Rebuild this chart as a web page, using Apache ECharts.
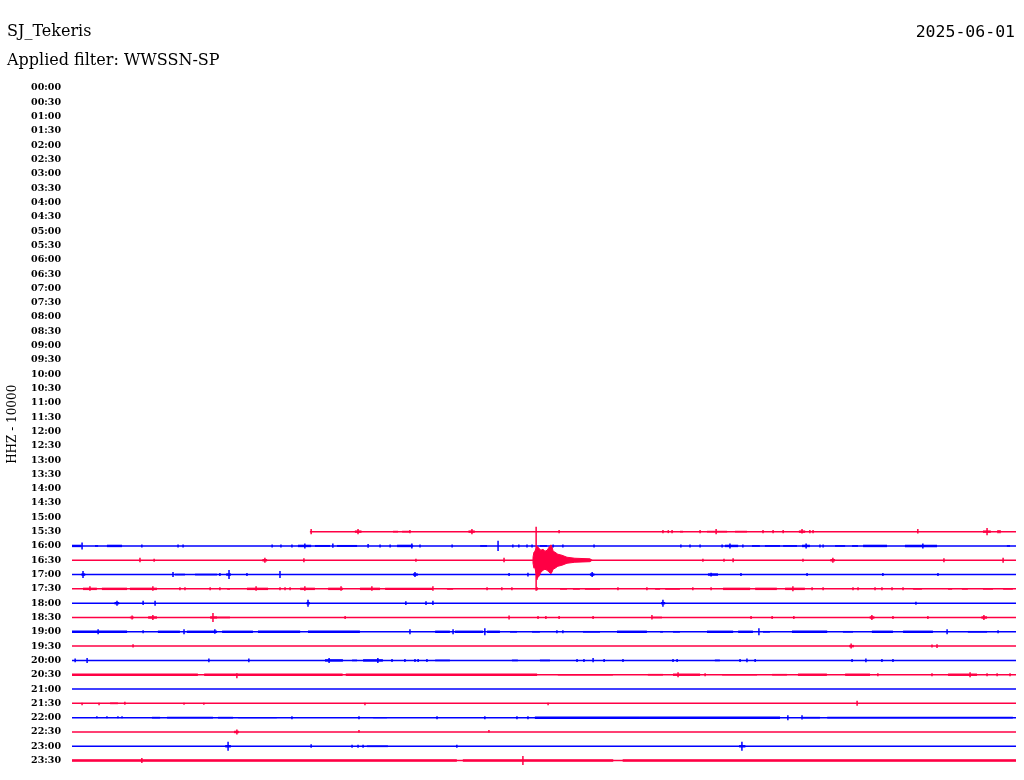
<!DOCTYPE html>
<html>
<head>
<meta charset="utf-8">
<script src="https://cdn.jsdelivr.net/npm/echarts@6/dist/echarts.min.js"></script>
<style>html,body{margin:0;padding:0;background:#fff}#c{width:1024px;height:780px}</style>
</head>
<body>
<div id="c"></div>
<script>
// ---- tick labels (rows of the helicorder, 30 minutes each) ----
const rowLabels = ['00:00','00:30','01:00','01:30','02:00','02:30','03:00','03:30','04:00','04:30','05:00','05:30',
  '06:00','06:30','07:00','07:30','08:00','08:30','09:00','09:30','10:00','10:30','11:00','11:30',
  '12:00','12:30','13:00','13:30','14:00','14:30','15:00','15:30','16:00','16:30','17:00','17:30',
  '18:00','18:30','19:00','19:30','20:00','20:30','21:00','21:30','22:00','22:30','23:00','23:30'];

// ---- rows that carry a trace, and the minute (within the row) where each trace begins ----
const traceRows  = ['15:30','16:00','16:30','17:00','17:30','18:00','18:30','19:00','19:30','20:00','20:30','21:00','21:30','22:00','22:30','23:00','23:30'];
const traceStart = [7.56, 0, 0, 0, 0, 0, 0, 0, 0, 0, 0, 0, 0, 0, 0, 0, 0];
const rowMinutes = 30;

// ---- spikes: [row, minute, amplitude up, amplitude down] (row-spacing units) ----
const spikes = [
  ['15:30',7.60,0.14,0.14],['15:30',9.09,0.14,0.14],['15:30',10.74,0.07,0.07],['15:30',12.71,0.14,0.14],['15:30',15.48,0.07,0.07],
  ['15:30',18.78,0.07,0.07],['15:30',18.95,0.07,0.07],['15:30',19.07,0.07,0.07],['15:30',19.96,0.07,0.07],['15:30',20.47,0.14,0.14],
  ['15:30',21.96,0.07,0.07],['15:30',22.28,0.07,0.07],['15:30',22.60,0.07,0.07],['15:30',23.20,0.14,0.1],['15:30',23.45,0.07,0.07],
  ['15:30',23.55,0.07,0.07],['15:30',26.88,0.14,0.1],['15:30',29.08,0.21,0.21],['15:30',29.43,0.07,0.07],['15:30',29.49,0.07,0.07],

  ['16:00',0.32,0.21,0.21],['16:00',2.22,0.07,0.07],['16:00',3.37,0.07,0.07],['16:00',3.53,0.07,0.07],['16:00',6.36,0.07,0.07],
  ['16:00',6.64,0.07,0.07],['16:00',6.99,0.07,0.07],['16:00',7.40,0.14,0.14],['16:00',8.29,0.14,0.1],['16:00',9.41,0.1,0.1],
  ['16:00',9.79,0.07,0.07],['16:00',10.11,0.07,0.07],['16:00',10.80,0.14,0.14],['16:00',11.06,0.07,0.07],['16:00',12.08,0.07,0.07],
  ['16:00',13.54,0.32,0.32],['16:00',14.01,0.07,0.07],['16:00',14.20,0.07,0.07],['16:00',14.46,0.07,0.07],['16:00',14.62,0.07,0.07],
  ['16:00',15.29,0.07,0.07],['16:00',15.60,0.07,0.07],['16:00',16.59,0.07,0.07],['16:00',19.35,0.07,0.07],['16:00',19.64,0.07,0.07],
  ['16:00',19.96,0.07,0.07],['16:00',20.66,0.07,0.07],['16:00',20.91,0.14,0.14],['16:00',21.32,0.07,0.07],['16:00',23.33,0.14,0.14],
  ['16:00',23.77,0.07,0.07],['16:00',23.87,0.07,0.07],['16:00',27.04,0.14,0.14],

  ['16:30',2.16,0.14,0.1],['16:30',2.61,0.07,0.07],['16:30',6.13,0.14,0.14],['16:30',7.37,0.1,0.1],['16:30',10.93,0.07,0.07],
  ['16:30',13.73,0.14,0.1],['16:30',14.75,2.30,2.09],['16:30',14.78,0.90,1.33],['16:30',15.22,1.05,0.91],['16:30',20.05,0.07,0.07],
  ['16:30',20.72,0.07,0.07],['16:30',21.01,0.1,0.1],['16:30',23.23,0.07,0.07],['16:30',24.18,0.14,0.14],['16:30',27.71,0.1,0.1],
  ['16:30',29.59,0.14,0.14],

  ['17:00',0.35,0.21,0.21],['17:00',3.21,0.14,0.14],['17:00',4.70,0.07,0.07],['17:00',4.99,0.28,0.28],['17:00',5.56,0.07,0.07],
  ['17:00',6.61,0.21,0.21],['17:00',10.90,0.14,0.14],['17:00',13.89,0.07,0.07],['17:00',14.49,0.1,0.1],['17:00',16.53,0.14,0.14],
  ['17:00',20.31,0.1,0.1],['17:00',21.26,0.07,0.07],['17:00',23.36,0.07,0.07],['17:00',25.77,0.07,0.07],['17:00',27.52,0.07,0.07],

  ['17:30',0.57,0.14,0.1],['17:30',2.57,0.14,0.1],['17:30',3.43,0.07,0.07],['17:30',3.59,0.07,0.07],['17:30',4.39,0.07,0.07],
  ['17:30',4.70,0.07,0.07],['17:30',5.85,0.14,0.1],['17:30',6.61,0.07,0.07],['17:30',6.77,0.07,0.07],['17:30',6.93,0.07,0.07],
  ['17:30',7.40,0.14,0.1],['17:30',8.55,0.14,0.1],['17:30',9.53,0.14,0.1],['17:30',11.47,0.14,0.1],['17:30',13.19,0.07,0.07],
  ['17:30',13.66,0.07,0.07],['17:30',13.98,0.07,0.07],['17:30',14.78,0.07,0.07],['17:30',17.35,0.07,0.07],['17:30',18.27,0.07,0.07],
  ['17:30',19.73,0.07,0.07],['17:30',20.31,0.07,0.07],['17:30',22.91,0.14,0.14],['17:30',23.52,0.07,0.07],['17:30',23.87,0.07,0.07],
  ['17:30',24.82,0.07,0.07],['17:30',24.98,0.07,0.07],['17:30',25.52,0.07,0.07],['17:30',25.74,0.07,0.07],['17:30',26.06,0.07,0.07],
  ['17:30',26.41,0.07,0.07],

  ['18:00',1.43,0.14,0.14],['18:00',2.26,0.14,0.1],['18:00',2.64,0.14,0.14],['18:00',7.50,0.21,0.21],['18:00',10.61,0.1,0.1],
  ['18:00',11.25,0.1,0.1],['18:00',11.47,0.14,0.1],['18:00',18.78,0.21,0.21],['18:00',26.82,0.07,0.07],

  ['18:30',1.91,0.1,0.1],['18:30',2.57,0.14,0.14],['18:30',4.48,0.28,0.28],['18:30',8.68,0.07,0.07],['18:30',13.89,0.1,0.1],
  ['18:30',14.81,0.07,0.07],['18:30',15.06,0.07,0.07],['18:30',15.48,0.07,0.07],['18:30',16.56,0.07,0.07],['18:30',18.43,0.14,0.1],
  ['18:30',21.58,0.07,0.07],['18:30',22.25,0.07,0.07],['18:30',22.94,0.07,0.07],['18:30',25.42,0.14,0.14],['18:30',26.09,0.07,0.07],
  ['18:30',27.20,0.07,0.07],['18:30',28.98,0.14,0.14],

  ['19:00',0.83,0.14,0.14],['19:00',2.26,0.07,0.07],['19:00',3.56,0.14,0.14],['19:00',4.54,0.14,0.1],['19:00',10.74,0.14,0.14],
  ['19:00',12.11,0.14,0.14],['19:00',13.12,0.21,0.21],['19:00',15.41,0.07,0.07],['19:00',15.60,0.07,0.07],['19:00',21.83,0.21,0.21],
  ['19:00',27.81,0.14,0.14],['19:00',29.43,0.07,0.07],

  ['19:30',1.94,0.1,0.07],['19:30',24.76,0.14,0.14],['19:30',27.33,0.07,0.07],['19:30',27.49,0.1,0.1],

  ['20:00',0.10,0.1,0.1],['20:00',0.48,0.14,0.14],['20:00',4.35,0.1,0.1],['20:00',5.62,0.1,0.1],['20:00',8.17,0.14,0.14],
  ['20:00',9.72,0.14,0.14],['20:00',10.17,0.07,0.07],['20:00',10.58,0.07,0.07],['20:00',10.90,0.07,0.07],['20:00',11.00,0.07,0.07],
  ['20:00',11.28,0.07,0.07],['20:00',16.05,0.07,0.07],['20:00',16.27,0.07,0.07],['20:00',16.56,0.14,0.1],['20:00',16.91,0.07,0.07],
  ['20:00',17.51,0.07,0.07],['20:00',19.10,0.07,0.07],['20:00',19.23,0.07,0.07],['20:00',21.23,0.07,0.07],['20:00',21.45,0.1,0.1],
  ['20:00',21.71,0.07,0.07],['20:00',24.79,0.07,0.07],['20:00',25.23,0.1,0.1],['20:00',25.74,0.07,0.07],['20:00',26.09,0.07,0.07],

  ['20:30',5.24,0.07,0.21],['20:30',19.26,0.14,0.14],['20:30',20.12,0.07,0.07],['20:30',25.61,0.07,0.07],['20:30',27.33,0.07,0.07],
  ['20:30',28.54,0.14,0.14],['20:30',29.08,0.07,0.07],['20:30',29.40,0.07,0.07],['20:30',29.81,0.07,0.07],

  ['21:30',0.32,0,0.1],['21:30',0.86,0,0.1],['21:30',1.68,0.07,0.07],['21:30',3.56,0,0.07],['21:30',4.19,0,0.07],
  ['21:30',9.31,0,0.1],['21:30',15.13,0,0.1],['21:30',24.95,0.14,0.14],

  ['22:00',0.79,0.07,0],['22:00',1.11,0.07,0],['22:00',1.46,0.07,0],['22:00',1.59,0.07,0],['22:00',6.99,0.07,0.07],
  ['22:00',9.12,0.07,0.07],['22:00',11.60,0.07,0.07],['22:00',13.12,0.07,0.07],['22:00',14.14,0.07,0.07],['22:00',14.49,0.07,0.07],
  ['22:00',22.75,0.14,0.14],['22:00',23.20,0.14,0.1],

  ['22:30',5.24,0.14,0.14],['22:30',9.12,0.1,0],['22:30',13.25,0.1,0],

  ['23:00',4.96,0.28,0.28],['23:00',7.60,0.1,0.07],['23:00',8.90,0.07,0.07],['23:00',9.09,0.07,0.07],['23:00',9.25,0.07,0.07],
  ['23:00',12.23,0.07,0.07],['23:00',21.29,0.28,0.28],

  ['23:30',2.22,0.14,0.14],['23:30',14.33,0.28,0.28]
];

// ---- noisy stretches: [row, from minute, to minute, half amplitude] ----
const noise = [
  ['15:30',8.99,9.20,0.1],['15:30',10.20,10.36,0.07],['15:30',10.49,10.74,0.07],['15:30',12.60,12.80,0.1],['15:30',19.32,19.42,0.07],
  ['15:30',20.18,20.82,0.07],['15:30',21.07,21.45,0.07],['15:30',23.10,23.30,0.1],['15:30',28.95,29.20,0.1],

  ['16:00',0,0.30,0.1],['16:00',0.73,0.83,0.07],['16:00',1.11,1.59,0.1],['16:00',7.18,7.60,0.1],['16:00',7.72,8.20,0.08],
  ['16:00',8.42,9.06,0.08],['16:00',10.33,10.84,0.1],['16:00',12.97,13.19,0.07],['16:00',14.87,15.10,0.07],['16:00',20.75,21.17,0.1],
  ['16:00',21.61,21.86,0.07],['16:00',22.02,22.50,0.07],['16:00',22.60,23.04,0.07],['16:00',23.20,23.45,0.1],['16:00',24.25,24.57,0.07],
  ['16:00',24.79,24.98,0.07],['16:00',25.14,25.90,0.1],['16:00',26.47,27.49,0.1],['16:00',29.71,29.81,0.07],

  ['16:30',6.05,6.20,0.1],['16:30',24.10,24.25,0.1],

  ['17:00',0.30,0.42,0.1],['17:00',3.27,3.59,0.07],['17:00',3.91,4.61,0.07],['17:00',4.90,5.05,0.1],['17:00',10.84,10.99,0.1],
  ['17:00',16.46,16.60,0.1],['17:00',20.21,20.53,0.1],

  ['17:30',0.35,0.79,0.1],['17:30',0.95,1.75,0.1],['17:30',1.84,2.70,0.1],['17:30',4.93,5.02,0.07],['17:30',5.56,6.23,0.1],
  ['17:30',7.25,7.72,0.1],['17:30',8.14,8.61,0.1],['17:30',9.15,9.79,0.1],['17:30',9.95,11.47,0.1],['17:30',11.92,12.11,0.07],
  ['17:30',15.51,15.73,0.07],['17:30',15.92,16.14,0.07],['17:30',16.30,16.78,0.07],['17:30',18.53,18.69,0.07],['17:30',18.85,19.32,0.07],
  ['17:30',20.69,21.55,0.1],['17:30',21.71,22.40,0.1],['17:30',22.66,23.29,0.1],['17:30',26.73,27.01,0.07],['17:30',27.84,27.97,0.07],
  ['17:30',28.28,28.47,0.07],['17:30',28.95,29.27,0.07],['17:30',29.59,29.90,0.07],

  ['18:00',1.35,1.50,0.1],['18:00',7.45,7.56,0.1],['18:00',18.72,18.85,0.1],

  ['18:30',1.84,1.97,0.07],['18:30',2.42,2.70,0.1],['18:30',4.39,4.61,0.1],['18:30',4.61,5.02,0.07],['18:30',18.43,18.75,0.07],
  ['18:30',25.35,25.50,0.1],['18:30',28.90,29.08,0.1],

  ['19:00',0,1.75,0.1],['19:00',2.73,3.43,0.1],['19:00',3.65,4.61,0.1],['19:00',4.77,5.75,0.1],['19:00',5.91,7.25,0.1],
  ['19:00',7.50,9.15,0.1],['19:00',11.54,12.01,0.1],['19:00',12.17,13.06,0.1],['19:00',13.19,13.60,0.1],['19:00',13.92,14.14,0.07],
  ['19:00',14.62,14.87,0.07],['19:00',16.24,16.78,0.07],['19:00',17.32,18.27,0.1],['19:00',18.69,18.78,0.07],['19:00',19.10,19.32,0.07],
  ['19:00',20.18,21.01,0.1],['19:00',21.17,21.64,0.1],['19:00',21.96,22.18,0.07],['19:00',22.88,24.00,0.1],['19:00',24.50,24.82,0.07],
  ['19:00',25.42,26.09,0.1],['19:00',26.41,27.36,0.1],['19:00',28.47,29.08,0.07],

  ['19:30',24.70,24.85,0.1],

  ['20:00',8.04,8.61,0.1],['20:00',8.90,9.06,0.07],['20:00',9.25,9.88,0.1],['20:00',11.54,12.01,0.07],['20:00',13.98,14.17,0.07],
  ['20:00',14.87,15.19,0.07],['20:00',20.43,20.59,0.07],

  ['20:30',0,4.00,0.1],['20:30',4.20,8.60,0.1],['20:30',8.70,14.78,0.1],['20:30',15.44,17.19,0.07],['20:30',18.30,18.78,0.07],
  ['20:30',19.10,19.96,0.1],['20:30',20.66,21.77,0.07],['20:30',22.25,22.72,0.07],['20:30',23.07,23.99,0.1],['20:30',24.57,25.36,0.1],
  ['20:30',27.84,28.76,0.1],

  ['21:30',1.21,1.46,0.07],

  ['22:00',2.54,2.80,0.07],['22:00',3.02,4.48,0.07],['22:00',4.64,5.12,0.07],['22:00',5.28,6.51,0.05],['22:00',9.57,10.01,0.05],
  ['22:00',14.71,18.05,0.1],['22:00',18.05,22.50,0.1],['22:00',23.23,23.77,0.07],['22:00',24.00,29.90,0.07],

  ['22:30',5.15,5.30,0.1],

  ['23:00',4.87,5.05,0.1],['23:00',9.37,10.04,0.07],['23:00',21.20,21.40,0.1],

  ['23:30',0,12.23,0.1],['23:30',12.42,17.20,0.1],['23:30',17.50,30,0.1]
];

// ---- earthquake coda on the 16:30 row: [minute, amplitude up, amplitude down] ----
const quakeRow = '16:30';
const quakeEnvelope = [
  [14.65,0.20,0.20],[14.68,0.56,0.56],[14.71,0.63,0.50],[14.78,0.98,1.26],[14.84,0.84,1.12],
  [14.90,0.70,0.84],[14.97,0.77,0.70],[15.03,0.63,0.63],[15.10,0.70,0.70],[15.16,0.91,0.84],
  [15.22,1.05,0.91],[15.25,0.98,0.84],[15.29,0.63,0.63],[15.35,0.56,0.56],[15.44,0.42,0.42],
  [15.57,0.35,0.35],[15.73,0.21,0.21],[15.98,0.14,0.14],[16.46,0.10,0.10],[16.53,0,0]
];

// ---------------------------------------------------------------
const RED = '#ff0044', BLUE = '#0000ff';
const rowIdx = l => rowLabels.indexOf(l);
const colorOf = l => l.slice(3) === '30' ? RED : BLUE;
const LW = 1.5;

const baseData = traceRows.map((l, i) => [traceStart[i], rowMinutes, rowIdx(l), l]);
const spikeData = spikes.map(s => [s[1], rowIdx(s[0]), s[2], s[3], s[0]]);
const noiseData = noise.map(n => [n[1], n[2], rowIdx(n[0]), n[3] * 0.85, n[0]]);

const chart = echarts.init(document.getElementById('c'), null, {renderer: 'canvas'});
const serif = 'DejaVu Serif';

chart.setOption({
  animation: false,
  backgroundColor: '#ffffff',
  title: [
    {text: 'SJ_Tekeris', left: 7, top: 24, padding: 0,
     textStyle: {fontFamily: serif, fontSize: 16, fontWeight: 'normal', color: '#000'}},
    {text: 'Applied filter: WWSSN-SP', left: 7, top: 53, padding: 0,
     textStyle: {fontFamily: serif, fontSize: 16, fontWeight: 'normal', color: '#000'}},
    {text: '2025-06-01', right: 9, top: 24, padding: 0,
     textStyle: {fontFamily: 'DejaVu Sans Mono', fontSize: 16.5, fontWeight: 'normal', color: '#000'}}
  ],
  grid: {left: 72, right: 8, top: 73.7, bottom: 5.1, containLabel: false, outerBoundsMode: 'none'},
  xAxis: {type: 'value', min: 0, max: rowMinutes, show: false},
  yAxis: {
    type: 'value', inverse: true, min: -1, max: 48, interval: 1,
    name: 'HHZ - 10000', nameLocation: 'middle', nameGap: 53, nameRotate: 90,
    nameTextStyle: {fontFamily: serif, fontSize: 12, color: '#000'},
    axisLine: {show: false}, axisTick: {show: false}, splitLine: {show: false},
    axisLabel: {
      margin: 11, fontFamily: serif, fontSize: 9.5, fontWeight: 'bold', color: '#000',
      formatter: v => rowLabels[v] || ''
    }
  },
  series: [
    {
      type: 'custom', name: 'baseline', clip: false, data: baseData,
      renderItem: (params, api) => {
        const r = api.value(2);
        const p0 = api.coord([api.value(0), r]);
        const p1 = api.coord([api.value(1), r]);
        const lbl = baseData[params.dataIndex][3];
        return {type: 'line', shape: {x1: p0[0], y1: p0[1], x2: p1[0], y2: p1[1]},
          style: {stroke: colorOf(lbl), lineWidth: LW}};
      }
    },
    {
      type: 'custom', name: 'noise', clip: false, data: noiseData,
      renderItem: (params, api) => {
        const r = api.value(2), a = api.value(3);
        const p0 = api.coord([api.value(0), r - a]);
        const p1 = api.coord([api.value(1), r + a]);
        const lbl = noiseData[params.dataIndex][4];
        return {type: 'rect', shape: {x: p0[0], y: p0[1], width: p1[0] - p0[0], height: p1[1] - p0[1]},
          style: {fill: colorOf(lbl)}};
      }
    },
    {
      type: 'custom', name: 'quake', clip: false, data: [0],
      renderItem: (params, api) => {
        const r = rowIdx(quakeRow);
        const top = quakeEnvelope.map(q => api.coord([q[0], r - q[1]]));
        const bot = quakeEnvelope.slice().reverse().map(q => api.coord([q[0], r + q[2]]));
        return {type: 'polygon', shape: {points: top.concat(bot)},
          style: {fill: colorOf(quakeRow), stroke: colorOf(quakeRow), lineWidth: 1}};
      }
    },
    {
      type: 'custom', name: 'spikes', clip: false, data: spikeData,
      renderItem: (params, api) => {
        const t = api.value(0), r = api.value(1);
        const p0 = api.coord([t, r - api.value(2)]);
        const p1 = api.coord([t, r + api.value(3)]);
        const lbl = spikeData[params.dataIndex][4];
        return {type: 'line', shape: {x1: p0[0], y1: p0[1] - 0.5, x2: p1[0], y2: p1[1] + 0.5},
          style: {stroke: colorOf(lbl), lineWidth: LW}};
      }
    }
  ]
});
</script>
</body>
</html>
